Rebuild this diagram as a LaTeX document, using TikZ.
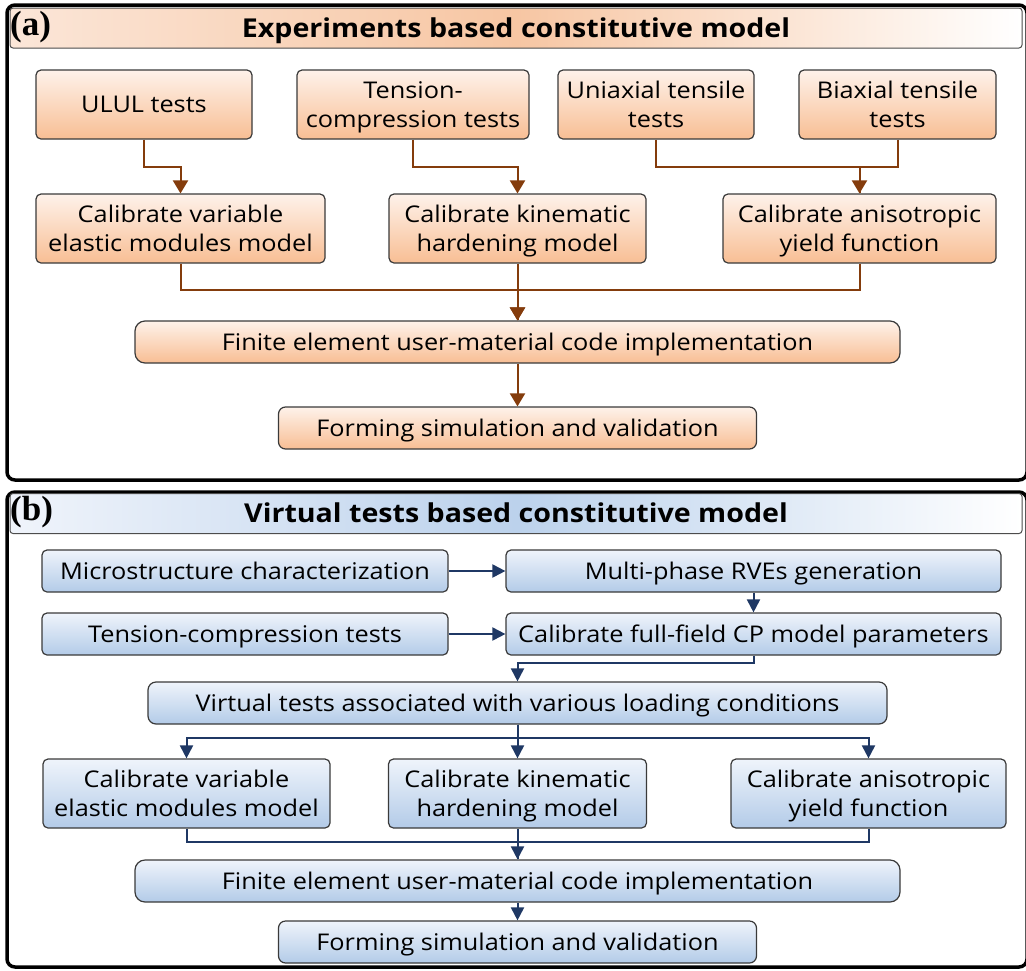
\documentclass[tikz,border=0pt]{standalone}
\usepackage{fontspec}
\setmainfont{Open Sans}[FakeStretch=1.1]
\newfontfamily\labfont{Liberation Serif}
\usetikzlibrary{arrows.meta}
\definecolor{oTop}{HTML}{FEF2EA}
\definecolor{oBot}{HTML}{F8BE94}
\definecolor{bTop}{HTML}{EFF4FB}
\definecolor{bBot}{HTML}{B3CBE8}
\definecolor{oLine}{HTML}{843C0C}
\definecolor{bLine}{HTML}{1F3864}
\definecolor{oTitL}{HTML}{FBE6D8}
\definecolor{oTitM}{HTML}{F7C6A3}
\definecolor{bTitL}{HTML}{F0F4FB}
\definecolor{bTitM}{HTML}{BCD2EC}
\definecolor{boxEdge}{HTML}{3A3A3A}
\newcommand{\boxfont}{\fontsize{23}{29}\selectfont}
\newcommand{\titfont}{\fontsize{26}{30}\selectfont\bfseries}
\newcommand{\nodepth}[1]{\raisebox{0pt}[\height][0pt]{#1}}
\tikzset{
  obox/.style={draw=boxEdge, line width=1.2pt, rounded corners=5pt, top color=oTop, bottom color=oBot, align=center, font=\boxfont, inner sep=0pt, text=black},
  bbox/.style={draw=boxEdge, line width=1.2pt, rounded corners=5pt, top color=bTop, bottom color=bBot, align=center, font=\boxfont, inner sep=0pt, text=black},
  oneline/.style={text height=25pt, text depth=9pt},
  oarr/.style={draw=oLine, line width=2pt, -{Triangle[width=15pt,length=13pt]}},
  oline/.style={draw=oLine, line width=2pt},
  barr/.style={draw=bLine, line width=2pt, -{Triangle[width=13pt,length=13pt]}},
  bline/.style={draw=bLine, line width=2pt},
  frame/.style={draw=black, line width=3.5pt, rounded corners=8pt},
  otitle/.style={draw=black!70, line width=1pt, rounded corners=3pt, left color=oTitL, right color=white, middle color=oTitM, font=\titfont, inner sep=0pt, minimum width=1012pt, minimum height=40pt, text height=18.5pt, text depth=0pt},
  btitle/.style={draw=black!70, line width=1pt, rounded corners=3pt, left color=bTitL, right color=white, middle color=bTitM, font=\titfont, inner sep=0pt, minimum width=1012pt, minimum height=40pt, text height=18.5pt, text depth=0pt},
  plab/.style={font=\labfont\fontsize{35}{35}\selectfont\bfseries, inner sep=0pt, anchor=west}
}
\begin{document}
\begin{tikzpicture}[x=1pt,y=-1pt]
\useasboundingbox (0,0) rectangle (1026,970);
% ---------------- (a) ----------------
\draw[frame] (7,5) rectangle (1027,480);
\node[otitle] (ta) at (516,28) {Experiments based constitutive model};
\node[plab] (la) at (10,27) {(a)};

\node[obox, oneline, minimum width=216pt, minimum height=69pt] (ulul) at (144,104.5) {ULUL tests};
\node[obox, minimum width=232pt, minimum height=69pt] (tc) at (413,104.5) {Tension-\\\nodepth{compression tests}};
\node[obox, minimum width=196pt, minimum height=69pt] (uni) at (656,104.5) {Uniaxial tensile\\tests};
\node[obox, minimum width=197pt, minimum height=69pt] (bi) at (897.5,104.5) {Biaxial tensile\\tests};

\node[obox, minimum width=289pt, minimum height=69pt] (cvar) at (180.5,228.5) {Calibrate variable\\elastic modules model};
\node[obox, minimum width=257pt, minimum height=69pt] (ckin) at (517.5,228.5) {Calibrate kinematic\\\nodepth{hardening model}};
\node[obox, minimum width=273pt, minimum height=69pt] (cani) at (859.5,228.5) {Calibrate anisotropic\\\nodepth{yield function}};

\node[obox, oneline, rounded corners=10pt, minimum width=765pt, minimum height=42pt] (fe) at (517.5,342) {Finite element user-material code implementation};
\node[obox, oneline, rounded corners=7pt, minimum width=478pt, minimum height=42pt] (form) at (517.5,428) {Forming simulation and validation};

\draw[oarr] (ulul.south) -- ++(0,27) -| (cvar.north);
\draw[oarr] (tc.south) -- ++(0,27) -| (ckin.north);
\draw[oline] (bi.south) -- ++(0,27) -| (cani.north);
\draw[oarr] (uni.south) -- ++(0,27) -| (cani.north);
\draw[oline] (cani.south) -- ++(0,26) -| (fe.north);
\draw[oarr] (cvar.south) -- ++(0,26) -| (fe.north);
\draw[oarr] (ckin.south) -- (fe.north);
\draw[oarr] (fe.south) -- (form.north);

% ---------------- (b) ----------------
\draw[frame] (7,492) rectangle (1027,967);
\node[btitle] (tb) at (516,513.5) {Virtual tests based constitutive model};
\node[plab] (lb) at (10,512) {(b)};

\node[bbox, oneline, minimum width=406pt, minimum height=42pt] (micro) at (245,571) {Microstructure characterization};
\node[bbox, oneline, minimum width=495pt, minimum height=42pt] (multi) at (753.5,571) {Multi-phase RVEs generation};
\node[bbox, oneline, minimum width=406pt, minimum height=42pt] (tc2) at (245,634) {Tension-compression tests};
\node[bbox, oneline, minimum width=495pt, minimum height=42pt] (cp) at (753.5,634) {Calibrate full-field CP model parameters};
\node[bbox, oneline, rounded corners=8pt, minimum width=739pt, minimum height=42pt] (virt) at (517.5,703) {Virtual tests associated with various loading conditions};

\node[bbox, minimum width=287pt, minimum height=69pt] (bvar) at (186.5,793.5) {Calibrate variable\\elastic modules model};
\node[bbox, minimum width=258pt, minimum height=69pt] (bkin) at (517.5,793.5) {Calibrate kinematic\\\nodepth{hardening model}};
\node[bbox, minimum width=275pt, minimum height=69pt] (bani) at (868.5,793.5) {Calibrate anisotropic\\\nodepth{yield function}};

\node[bbox, oneline, rounded corners=10pt, minimum width=765pt, minimum height=42pt] (fe2) at (517.5,881) {Finite element user-material code implementation};
\node[bbox, oneline, rounded corners=7pt, minimum width=478pt, minimum height=42pt] (form2) at (517.5,942) {Forming simulation and validation};

\draw[barr] (micro.east) -- (multi.west);
\draw[barr] (tc2.east) -- (cp.west);
\draw[barr] (multi.south) -- (cp.north);
\draw[barr] (cp.south) -- ++(0,7) -| (virt.north);
\draw[barr] (virt.south) -- ++(0,13) -| (bvar.north);
\draw[barr] (virt.south) -- ++(0,13) -| (bani.north);
\draw[barr] (virt.south) -- (bkin.north);
\draw[bline] (bvar.south) -- ++(0,13) -| (fe2.north);
\draw[bline] (bani.south) -- ++(0,13) -| (fe2.north);
\draw[barr] (bkin.south) -- (fe2.north);
\draw[barr] (fe2.south) -- (form2.north);
\end{tikzpicture}
\end{document}
